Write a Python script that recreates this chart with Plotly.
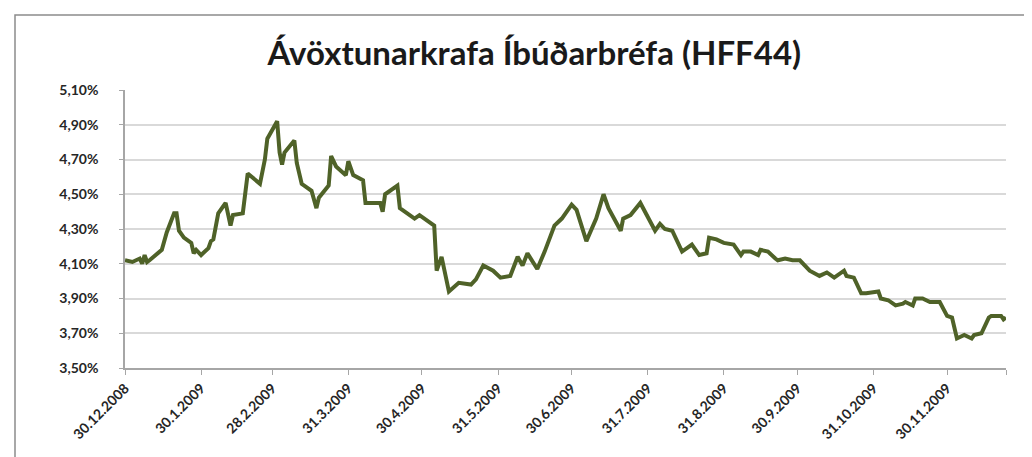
import plotly.graph_objects as go

# Ávöxtunarkrafa HFF44
dates = ['2008-12-30', '2009-01-02', '2009-01-05', '2009-01-06', '2009-01-07', '2009-01-08',
         '2009-01-09', '2009-01-12', '2009-01-14', '2009-01-16', '2009-01-19', '2009-01-20',
         '2009-01-21', '2009-01-23', '2009-01-26', '2009-01-27', '2009-01-28', '2009-01-30',
         '2009-02-02', '2009-02-03', '2009-02-04', '2009-02-06', '2009-02-09', '2009-02-11',
         '2009-02-12', '2009-02-16', '2009-02-18', '2009-02-23', '2009-02-25', '2009-02-26',
         '2009-03-02', '2009-03-03', '2009-03-04', '2009-03-05', '2009-03-09', '2009-03-10',
         '2009-03-12', '2009-03-16', '2009-03-18', '2009-03-19', '2009-03-23', '2009-03-24',
         '2009-03-26', '2009-03-30', '2009-03-31', '2009-04-02', '2009-04-06', '2009-04-07',
         '2009-04-13', '2009-04-14', '2009-04-15', '2009-04-20', '2009-04-21', '2009-04-27',
         '2009-04-28', '2009-04-29', '2009-05-05', '2009-05-06', '2009-05-08', '2009-05-11',
         '2009-05-15', '2009-05-20', '2009-05-22', '2009-05-25', '2009-05-29', '2009-06-01',
         '2009-06-05', '2009-06-08', '2009-06-10', '2009-06-12', '2009-06-16', '2009-06-19',
         '2009-06-23', '2009-06-26', '2009-06-30', '2009-07-02', '2009-07-06', '2009-07-10',
         '2009-07-13', '2009-07-15', '2009-07-20', '2009-07-21', '2009-07-24', '2009-07-28',
         '2009-08-03', '2009-08-05', '2009-08-07', '2009-08-10', '2009-08-14', '2009-08-18',
         '2009-08-21', '2009-08-24', '2009-08-25', '2009-08-28', '2009-08-31', '2009-09-04',
         '2009-09-07', '2009-09-08', '2009-09-11', '2009-09-14', '2009-09-15', '2009-09-18',
         '2009-09-21', '2009-09-22', '2009-09-25', '2009-09-28', '2009-10-01', '2009-10-05',
         '2009-10-09', '2009-10-12', '2009-10-15', '2009-10-19', '2009-10-20', '2009-10-23',
         '2009-10-26', '2009-10-28', '2009-11-02', '2009-11-03', '2009-11-06', '2009-11-09',
         '2009-11-12', '2009-11-13', '2009-11-16', '2009-11-17', '2009-11-20', '2009-11-23',
         '2009-11-27', '2009-11-30', '2009-12-02', '2009-12-04', '2009-12-07', '2009-12-10',
         '2009-12-11', '2009-12-14', '2009-12-17', '2009-12-18', '2009-12-22', '2009-12-23',
         '2009-12-24']
yields = [4.12, 4.11, 4.13, 4.10, 4.15, 4.11,
          4.12, 4.16, 4.18, 4.28, 4.39, 4.39,
          4.29, 4.25, 4.22, 4.16, 4.18, 4.15,
          4.19, 4.23, 4.24, 4.39, 4.45, 4.32,
          4.38, 4.39, 4.62, 4.56, 4.70, 4.82,
          4.92, 4.74, 4.67, 4.74, 4.81, 4.68,
          4.56, 4.52, 4.42, 4.48, 4.55, 4.72,
          4.66, 4.61, 4.69, 4.61, 4.58, 4.45,
          4.45, 4.40, 4.50, 4.55, 4.42, 4.36,
          4.37, 4.38, 4.32, 4.06, 4.14, 3.94,
          3.99, 3.98, 4.01, 4.09, 4.06, 4.02,
          4.03, 4.14, 4.09, 4.16, 4.07, 4.17,
          4.32, 4.36, 4.44, 4.41, 4.23, 4.36,
          4.50, 4.42, 4.29, 4.36, 4.38, 4.45,
          4.29, 4.33, 4.30, 4.29, 4.17, 4.21,
          4.15, 4.16, 4.25, 4.24, 4.22, 4.21,
          4.15, 4.17, 4.17, 4.15, 4.18, 4.17,
          4.13, 4.12, 4.13, 4.12, 4.12, 4.06,
          4.03, 4.05, 4.02, 4.06, 4.03, 4.02,
          3.93, 3.93, 3.94, 3.90, 3.89, 3.86,
          3.87, 3.88, 3.86, 3.90, 3.90, 3.88,
          3.88, 3.80, 3.79, 3.67, 3.69, 3.67,
          3.69, 3.70, 3.79, 3.80, 3.80, 3.78,
          3.79]

tick_dates = ['2008-12-30', '2009-01-30', '2009-02-28', '2009-03-31', '2009-04-30', '2009-05-31',
              '2009-06-30', '2009-07-31', '2009-08-31', '2009-09-30', '2009-10-31', '2009-11-30',
              '2009-12-24']
tick_labels = ['30.12.2008', '30.1.2009', '28.2.2009', '31.3.2009', '30.4.2009', '31.5.2009',
               '30.6.2009', '31.7.2009', '31.8.2009', '30.9.2009', '31.10.2009', '30.11.2009', '']

W, H = 1032, 457
L, R, T, B = 117, 34, 82, 97
pw, ph = W - L - R, H - T - B

def px_x(p):
    return (p - L) / pw

def px_y(p):
    return (H - B - p) / ph

fig = go.Figure()
fig.add_trace(go.Scatter(x=dates, y=yields, mode='lines',
                         line=dict(color='#4F6228', width=4), hoverinfo='x+y'))

fig.update_layout(
    width=W, height=H,
    margin=dict(l=L, r=R, t=T, b=B),
    paper_bgcolor='white', plot_bgcolor='white',
    separators=',.',
    showlegend=False,
    font=dict(family='Lato, Open Sans, sans-serif', color='#262626'),
    title=dict(text='<b>Ávöxtunarkrafa Íbúðarbréfa (HFF44)</b>', x=0.51, xref='container',
               xanchor='center', y=1 - 45 / H, yanchor='middle',
               font=dict(family='Lato, sans-serif', size=33, color='#1a1a1a')),
    shapes=[dict(type='rect', xref='paper', yref='paper',
                 x0=px_x(7), x1=px_x(1026), y0=px_y(470), y1=px_y(7),
                 line=dict(color='#8c8c8c', width=1.5), fillcolor='rgba(0,0,0,0)', layer='below')],
)

fig.update_xaxes(
    type='date', range=['2008-12-30', '2009-12-24'],
    tickvals=tick_dates, ticktext=tick_labels, tickangle=-45,
    ticks='outside', ticklen=5, tickcolor='#a6a6a6',
    showline=True, linecolor='#a6a6a6', linewidth=1.5,
    showgrid=False, zeroline=False,
    tickfont=dict(size=14, family='Lato, sans-serif', color='#262626', weight='bold'),
)
fig.update_yaxes(
    range=[3.5, 5.1], dtick=0.2, tick0=3.5,
    tickformat='.2f', ticksuffix='%',
    showline=True, linecolor='#a6a6a6', linewidth=1.5,
    showgrid=True, gridcolor='#d9d9d9', gridwidth=2,
    ticks='outside', ticklen=4, tickcolor='#a6a6a6',
    ticklabelstandoff=18,
    zeroline=False,
    tickfont=dict(size=14, family='Lato, sans-serif', color='#262626', weight='bold'),
)

fig.write_html("out.html")
